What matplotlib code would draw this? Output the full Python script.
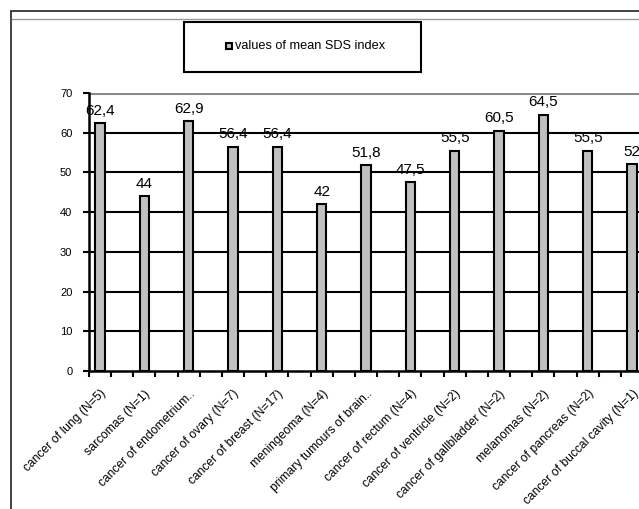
import matplotlib
matplotlib.use("Agg")
import matplotlib.pyplot as plt
from matplotlib.patches import Rectangle
from matplotlib.lines import Line2D
import numpy as np

plt.rcParams['font.family'] = ['Liberation Sans', 'DejaVu Sans']

categories = [
    "cancer of lung (N=5)",
    "sarcomas (N=1)",
    "cancer of endometrium..",
    "cancer of ovary (N=7)",
    "cancer of breast (N=17)",
    "meningeoma (N=4)",
    "primary tumours of brain..",
    "cancer of rectum (N=4)",
    "cancer of ventricle (N=2)",
    "cancer of gallbladder (N=2)",
    "melanomas (N=2)",
    "cancer of pancreas (N=2)",
    "cancer of buccal cavity (N=1)",
]
values = [62.4, 44, 62.9, 56.4, 56.4, 42, 51.8, 47.5, 55.5, 60.5, 64.5, 55.5, 52]
value_labels = ["62,4", "44", "62,9", "56,4", "56,4", "42", "51,8", "47,5",
                "55,5", "60,5", "64,5", "55,5", "52"]
y_ticks = [0, 10, 20, 30, 40, 50, 60, 70]
series_name = "values of mean SDS index"

W, H = 639, 509
fig = plt.figure(figsize=(W / 100, H / 100), dpi=100)

# outer chart frame (runs off the right and bottom edges)
fig.add_artist(Rectangle((11 / W, -0.1), 1.2, (H - 11) / H + 0.1,
                         transform=fig.transFigure, fill=False,
                         edgecolor="#222222", linewidth=1.2))
fig.add_artist(Line2D([12 / W, 1.0], [(H - 19) / H] * 2,
                      transform=fig.transFigure, color="#9a9a9a", linewidth=1.0))

# plot area: each bar sits in every other slot
n = len(categories)
slots = 2 * n
left_px, right_px = 89, 665.3
bottom_px, top_px = 371, 93
ax = fig.add_axes([left_px / W, (H - bottom_px) / H,
                   (right_px - left_px) / W, (bottom_px - top_px) / H])

x = np.arange(n) * 2
ax.bar(x, values, width=0.42, color="#c0c0c0", edgecolor="black",
       linewidth=1.5, zorder=3)

ax.set_xlim(-0.5, slots - 0.5)
ax.set_ylim(0, 70)

# horizontal grid lines
for yv in y_ticks[1:-1]:
    ax.axhline(yv, color="black", linewidth=1.5, zorder=1)
ax.axhline(70, color="#8a8a8a", linewidth=2.2, zorder=1)

for s in ["top", "right"]:
    ax.spines[s].set_visible(False)
ax.spines["left"].set_linewidth(1.8)
ax.spines["bottom"].set_linewidth(1.8)
ax.spines["left"].set_zorder(4)

ax.set_yticks(y_ticks)
ax.set_yticklabels([str(v) for v in y_ticks], fontsize=8)
ax.tick_params(axis="y", direction="out", length=4, width=1.5, pad=8)

ax.set_xticks(np.arange(-0.5, slots, 1.0))
ax.set_xticklabels([])
ax.tick_params(axis="x", which="major", direction="out", length=4, width=1.5)
ax.set_xticks(x, minor=True)
ax.set_xticklabels(categories, minor=True, rotation=45, ha="right",
                   va="top", rotation_mode="anchor", fontsize=8.7)
ax.tick_params(axis="x", which="minor", length=0, pad=12)

# value labels above each bar
for xi, v, lab in zip(x, values, value_labels):
    ax.annotate(lab, (xi, v), xytext=(0, 4), textcoords="offset points",
                ha="center", va="bottom", fontsize=11, zorder=5,
                annotation_clip=False)

# legend box
lx0, lx1, ly0, ly1 = 184, 421, 22, 72
fig.add_artist(Rectangle((lx0 / W, (H - ly1) / H), (lx1 - lx0) / W, (ly1 - ly0) / H,
                         transform=fig.transFigure, fill=True, facecolor="white",
                         edgecolor="black", linewidth=1.5))
fig.add_artist(Rectangle((226 / W, (H - 49) / H), 6 / W, 6 / H,
                         transform=fig.transFigure, facecolor="#c0c0c0",
                         edgecolor="black", linewidth=1.5))
fig.text(235 / W, (H - 46) / H, series_name, fontsize=9.2, ha="left", va="center")

fig.savefig("out.png", dpi=100)
